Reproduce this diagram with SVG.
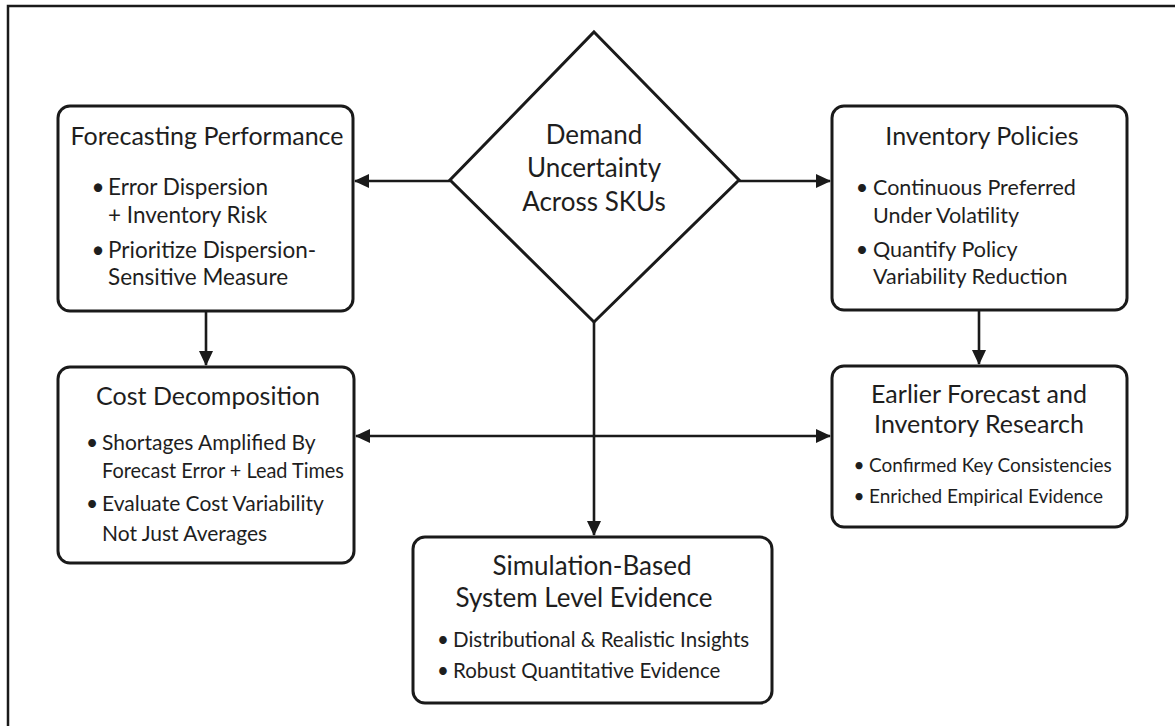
<svg xmlns="http://www.w3.org/2000/svg" width="1175" height="726" viewBox="0 0 1175 726">
  <style>
    .box { fill: #ffffff; stroke: #1a1a1a; stroke-width: 3; }
    .edge { fill: none; stroke: #1a1a1a; stroke-width: 2.6; }
    text { font-family: Lato, "Open Sans", sans-serif; fill: #1e1e1e; }
    .title { font-size: 25px; }
    .big { font-size: 26px; }
    .mid { text-anchor: middle; }
    .dot { text-anchor: middle; }
  </style>
  <defs>
    <marker id="arrow" viewBox="0 0 15 14" refX="14" refY="7" markerWidth="15" markerHeight="14" markerUnits="userSpaceOnUse" orient="auto-start-reverse">
      <path d="M0,0 L15,7 L0,14 Z" fill="#1a1a1a"/>
    </marker>
  </defs>

  <rect width="1175" height="726" fill="#ffffff"/>
  <!-- frame: top and left borders -->
  <path d="M8,727 L8,6 L1176,6" fill="none" stroke="#1a1a1a" stroke-width="2.5"/>

  <g id="connectors">
    <line class="edge" x1="450" y1="181" x2="355" y2="181" marker-end="url(#arrow)"/>
    <line class="edge" x1="739" y1="181" x2="830" y2="181" marker-end="url(#arrow)"/>
    <line class="edge" x1="206" y1="312" x2="206" y2="365" marker-end="url(#arrow)"/>
    <line class="edge" x1="979" y1="311" x2="979" y2="364" marker-end="url(#arrow)"/>
    <line class="edge" x1="356" y1="436" x2="830" y2="436" marker-start="url(#arrow)" marker-end="url(#arrow)"/>
    <line class="edge" x1="594" y1="322" x2="594" y2="535" marker-end="url(#arrow)"/>
  </g>

  <g id="demand">
    <path d="M594,32 L739,180 L594,322 L450,180 Z" fill="#ffffff" stroke="#1a1a1a" stroke-width="3" stroke-linejoin="miter"/>
    <text class="big mid" x="594" y="144">Demand</text>
    <text class="big mid" x="594" y="177">Uncertainty</text>
    <text class="big mid" x="594" y="211">Across SKUs</text>
  </g>

  <g id="forecasting">
    <rect class="box" x="58" y="106" width="295" height="205" rx="12"/>
    <text class="title mid" x="207" y="145">Forecasting Performance</text>
    <g font-size="22.5">
      <text x="108" y="195"><tspan class="dot" x="98">•</tspan><tspan x="108">Error Dispersion</tspan></text>
      <text x="108" y="223">+ Inventory Risk</text>
      <text x="108" y="258"><tspan class="dot" x="98">•</tspan><tspan x="108">Prioritize Dispersion-</tspan></text>
      <text x="108" y="285">Sensitive Measure</text>
    </g>
  </g>

  <g id="inventory">
    <rect class="box" x="832" y="106" width="295" height="204" rx="12"/>
    <text class="title mid" x="982" y="145">Inventory Policies</text>
    <g font-size="21.5">
      <text x="873" y="195"><tspan class="dot" x="862">•</tspan><tspan x="873">Continuous Preferred</tspan></text>
      <text x="873" y="223">Under Volatility</text>
      <text x="873" y="257"><tspan class="dot" x="862">•</tspan><tspan x="873">Quantify Policy</tspan></text>
      <text x="873" y="284">Variability Reduction</text>
    </g>
  </g>

  <g id="cost">
    <rect class="box" x="58" y="367" width="296" height="196" rx="12"/>
    <text class="title mid" x="208" y="405">Cost Decomposition</text>
    <g font-size="21">
      <text x="102" y="450"><tspan class="dot" x="92">•</tspan><tspan x="102">Shortages Amplified By</tspan></text>
      <text x="102" y="478" textLength="242" lengthAdjust="spacingAndGlyphs">Forecast Error + Lead Times</text>
      <text x="102" y="511"><tspan class="dot" x="92">•</tspan><tspan x="102">Evaluate Cost Variability</tspan></text>
      <text x="102" y="541">Not Just Averages</text>
    </g>
  </g>

  <g id="earlier">
    <rect class="box" x="832" y="366" width="295" height="161" rx="12"/>
    <text class="title mid" x="979" y="403">Earlier Forecast and</text>
    <text class="title mid" x="979" y="433">Inventory Research</text>
    <g font-size="19">
      <text x="869" y="472"><tspan class="dot" x="859">•</tspan><tspan x="869">Confirmed Key Consistencies</tspan></text>
      <text x="869" y="503"><tspan class="dot" x="859">•</tspan><tspan x="869">Enriched Empirical Evidence</tspan></text>
    </g>
  </g>

  <g id="simulation">
    <rect class="box" x="413" y="537" width="359" height="166" rx="12"/>
    <text class="big mid" x="592" y="575">Simulation-Based</text>
    <text class="big mid" x="584" y="607">System Level Evidence</text>
    <g font-size="20.5">
      <text x="453" y="647"><tspan class="dot" x="443">•</tspan><tspan x="453">Distributional &amp; Realistic Insights</tspan></text>
      <text x="453" y="678"><tspan class="dot" x="443">•</tspan><tspan x="453">Robust Quantitative Evidence</tspan></text>
    </g>
  </g>
</svg>
